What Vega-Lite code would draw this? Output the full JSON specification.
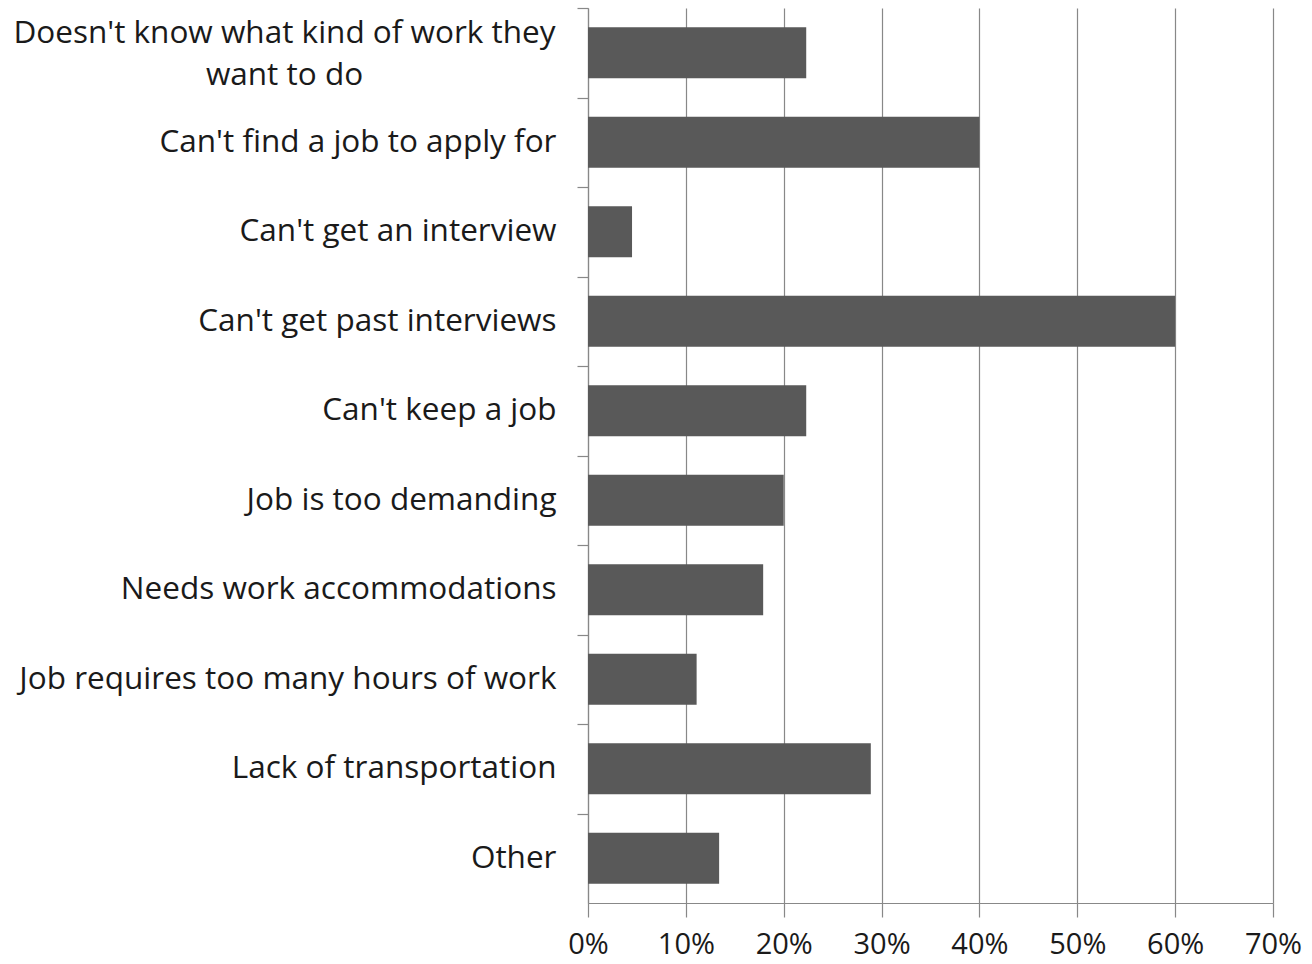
{
  "$schema": "https://vega.github.io/schema/vega-lite/v6.json",
  "autosize": "none",
  "width": 685,
  "height": 895,
  "padding": {"left": 588, "top": 8, "right": 39, "bottom": 61},
  "background": "white",
  "config": {"view": {"stroke": null}, "font": "Open Sans"},
  "data": {"values": [
    {"reason": "Doesn't know what kind of work they want to do", "share": 0.223},
    {"reason": "Can't find a job to apply for", "share": 0.40},
    {"reason": "Can't get an interview", "share": 0.045},
    {"reason": "Can't get past interviews", "share": 0.60},
    {"reason": "Can't keep a job", "share": 0.223},
    {"reason": "Job is too demanding", "share": 0.20},
    {"reason": "Needs work accommodations", "share": 0.179},
    {"reason": "Job requires too many hours of work", "share": 0.111},
    {"reason": "Lack of transportation", "share": 0.289},
    {"reason": "Other", "share": 0.134}
  ]},
  "mark": {"type": "bar", "color": "#595959"},
  "encoding": {
    "y": {
      "field": "reason", "type": "nominal", "sort": null, "title": null,
      "scale": {"paddingInner": 0.43, "paddingOuter": 0.215},
      "axis": {
        "tickOffset": -44.75,
        "domainColor": "#888888", "domainWidth": 1.2,
        "tickColor": "#888888", "tickSize": 11, "tickWidth": 1.2,
        "labelFontSize": 31.5, "labelColor": "#1a1a1a",
        "labelPadding": {"condition": {"test": "datum.value == \"Doesn't know what kind of work they want to do\"", "value": 293}, "value": 21},
        "labelAlign": {"condition": {"test": "datum.value == \"Doesn't know what kind of work they want to do\"", "value": "center"}, "value": "right"},
        "labelOffset": {"condition": {"test": "datum.value == \"Doesn't know what kind of work they want to do\"", "value": 25}, "value": 44.75},
        "labelLimit": 700,
        "labelExpr": "datum.value == \"Doesn't know what kind of work they want to do\" ? [\"Doesn't know what kind of work they\", \"want to do\"] : datum.value",
        "labelLineHeight": 42
      }
    },
    "x": {
      "field": "share", "type": "quantitative", "title": null,
      "scale": {"domain": [0, 0.7], "nice": false},
      "axis": {
        "values": [0, 0.1, 0.2, 0.3, 0.4, 0.5, 0.6, 0.7],
        "format": ".0%",
        "grid": true, "gridColor": "#888888", "gridWidth": 1.2,
        "domainColor": "#888888", "domainWidth": 1.2,
        "tickColor": "#888888", "tickSize": 14, "tickWidth": 1.2,
        "labelFontSize": 29, "labelColor": "#1a1a1a", "labelPadding": 13,
        "labelFlush": false
      }
    }
  }
}
